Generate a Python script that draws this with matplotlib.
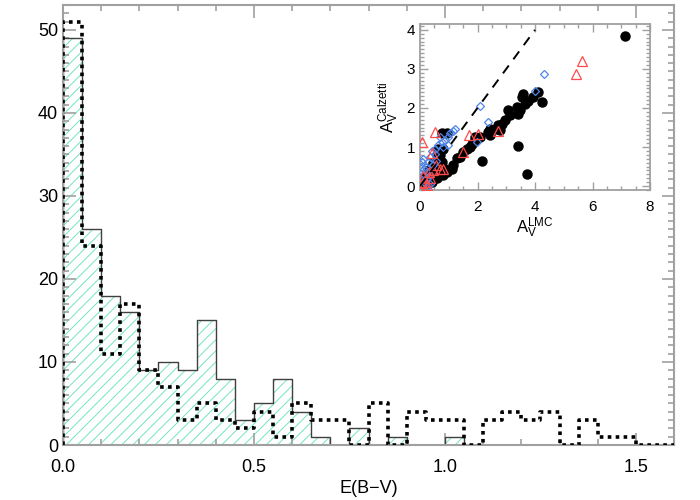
import matplotlib
matplotlib.use('Agg')
import matplotlib.pyplot as plt
import numpy as np
from matplotlib.ticker import MultipleLocator

plt.rcParams['font.family'] = ['Liberation Sans', 'DejaVu Sans']
plt.rcParams['mathtext.default'] = 'regular'
plt.rcParams['hatch.linewidth'] = 0.7

# histogram of E(B-V), bins of 0.05 from 0 to 1.6
bin_width = 0.05
n_solid = [49, 26, 18, 16, 9, 10, 9, 15, 8, 3, 5, 8, 4, 1, 0, 2,
           0, 1, 0, 0, 1, 0, 0, 0, 0, 0, 0, 0, 0, 0, 0, 0]
n_dotted = [51, 24, 11, 17, 9, 7, 3, 5, 3, 2, 4, 1, 5, 3, 3, 0,
            5, 0, 4, 3, 3, 0, 3, 4, 3, 4, 0, 3, 1, 1, 0, 0]

# inset: A_V(LMC) vs A_V(Calzetti)
black_x = [7.13, 4.12, 4.23, 3.94, 3.59, 3.54, 3.77, 3.65, 3.36, 3.48, 3.40, 3.07, 3.13, 2.96, 2.84,
           2.72, 2.67, 2.78, 2.43, 2.38, 2.43, 2.09, 1.91, 1.91, 1.80, 1.74, 1.62, 1.51, 1.39, 1.28,
           1.16, 1.10, 0.93, 0.81, 0.58, 3.40, 3.71, 2.15, 0.75, 0.93, 0.64, 0.58, 0.75, 0.87, 0.64,
           0.46, 0.52, 0.41, 0.29, 0.17, 0.06, 0.35, 0.25, 0.12, 0.20, 0.30, 0.45, 0.55, 0.70, 0.10,
           0.02, 0.15, 0.40, 0.50, 0.68, 0.80]
black_y = [3.85, 2.41, 2.15, 2.28, 2.36, 2.28, 2.19, 2.11, 2.02, 1.94, 1.85, 1.94, 1.81, 1.68, 1.60,
           1.56, 1.47, 1.43, 1.47, 1.39, 1.30, 1.26, 1.26, 1.17, 1.09, 1.00, 0.96, 0.88, 0.75, 0.71,
           0.54, 0.45, 0.37, 0.28, 0.20, 1.02, 0.31, 0.64, 1.37, 1.37, 0.96, 0.79, 0.62, 0.45, 0.37,
           0.28, 0.54, 0.49, 0.20, 0.11, 0.03, 0.32, 0.15, 0.05, 0.25, 0.40, 0.60, 0.45, 0.55, 0.10,
           0.02, 0.02, 0.10, 0.35, 0.80, 0.95]
blue_x = [4.33, 3.99, 2.09, 2.38, 1.97, 1.22, 1.16, 0.99, 0.87, 0.75, 0.70, 0.64, 0.99, 0.52, 0.52,
          0.35, 0.29, 0.06, 0.04, 0.23, 0.12, 0.35, 0.06, 0.29, 0.17, 0.10, 0.40, 0.15, 0.45, 0.25,
          0.08, 0.55, 1.05, 0.80, 0.20, 0.35]
blue_y = [2.87, 2.43, 2.04, 1.64, 1.13, 1.47, 1.42, 1.26, 1.17, 1.13, 1.26, 1.05, 1.06, 0.96, 0.83,
          0.75, 0.62, 0.62, 0.49, 0.37, 0.28, 0.28, 0.15, 0.03, 0.07, 0.70, 0.90, 0.45, 0.55, 0.20,
          0.05, 0.65, 1.35, 1.00, 0.50, 0.05]
red_x = [5.62, 5.43, 2.70, 2.03, 1.70, 1.50, 0.06, 0.52, 0.41, 0.81, 0.70, 0.46, 0.35, 0.17, 0.23,
         0.12, 0.30, 0.55, 0.08]
red_y = [3.21, 2.87, 1.40, 1.34, 1.32, 0.87, 1.12, 1.39, 0.84, 0.45, 0.45, 0.41, 0.20, 0.11, 0.03,
         0.25, 0.35, 0.55, 0.08]

green = '#72e6bc'
axcol = '#a0a0a0'

fig = plt.figure(figsize=(7, 5), dpi=100)
ax = fig.add_axes([0.09, 0.11, 0.873, 0.88])

edges = np.arange(len(n_solid) + 1) * bin_width
def step_xy(counts):
	xs = np.repeat(edges, 2)
	ys = np.concatenate([[0], np.repeat(counts, 2), [0]])
	return xs, ys

xs, ys = step_xy(n_solid)
ax.fill_between(xs, 0, ys, facecolor='none', edgecolor=green, hatch='///', linewidth=0, zorder=1)
ax.plot(xs, ys, color='#404040', lw=1.0, zorder=2)
xd, yd = step_xy(n_dotted)
ax.plot(xd, yd, color='black', lw=2.6, linestyle=(0, (1.0, 1.2)), zorder=3)

ax.set_xlim(0, 1.6)
ax.set_ylim(0, 53)
ax.xaxis.set_major_locator(MultipleLocator(0.5))
ax.xaxis.set_minor_locator(MultipleLocator(0.1))
ax.yaxis.set_major_locator(MultipleLocator(10))
ax.yaxis.set_minor_locator(MultipleLocator(1))
ax.xaxis.set_major_formatter(matplotlib.ticker.FormatStrFormatter('%.1f'))
ax.tick_params(which='both', direction='in', top=True, right=True, color=axcol, labelsize=13, width=1.2)
ax.tick_params(axis='x', which='major', pad=10)
ax.tick_params(which='major', length=9)
ax.tick_params(which='minor', length=4.5)
for s in ax.spines.values():
	s.set_color(axcol)
	s.set_linewidth(1.5)
ax.set_xlabel('E(B\u2212V)', fontsize=13, labelpad=3)
# IDL puts the bottom label just above the axis
ax.yaxis.get_major_ticks()[0].label1.set_verticalalignment('bottom')

# inset
ins = fig.add_axes([0.6, 0.62, 0.3286, 0.332])
ins.plot(black_x, black_y, 'o', color='black', ms=6.5, zorder=2)
ins.plot(blue_x, blue_y, 'D', mfc='none', mec='#4f86e8', ms=4.5, mew=0.9, zorder=3)
ins.plot(red_x, red_y, '^', mfc='none', mec='#ff4a4a', ms=6.5, mew=0.9, zorder=4)
ins.plot([0, 4], [0, 4], color='black', lw=1.4, linestyle=(0, (5, 4)), zorder=5)
ins.set_xlim(0, 8)
ins.set_ylim(-0.1, 4.15)
ins.xaxis.set_major_locator(MultipleLocator(2))
ins.xaxis.set_minor_locator(MultipleLocator(0.5))
ins.yaxis.set_major_locator(MultipleLocator(1))
ins.yaxis.set_minor_locator(MultipleLocator(0.1))
ins.tick_params(which='both', direction='in', top=True, right=True, color=axcol, labelsize=11, width=1.0)
ins.tick_params(which='major', length=6)
ins.tick_params(which='minor', length=3)
ins.tick_params(axis='x', which='major', pad=7)
for s in ins.spines.values():
	s.set_color(axcol)
	s.set_linewidth(1.3)
ins.set_xlabel('$A_V^{LMC}$', fontsize=12, labelpad=1)
ins.set_ylabel('$A_V^{Calzetti}$', fontsize=12, labelpad=4)

plt.savefig('out.png', dpi=100)
